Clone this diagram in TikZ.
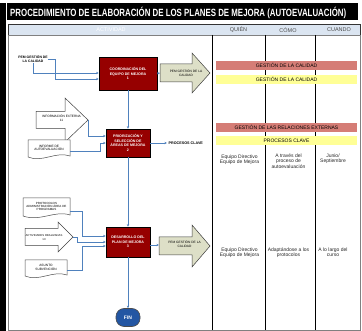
\documentclass[tikz,border=0pt]{standalone}
\usepackage{graphicx}
\usepackage{fontspec}
\setmainfont{Liberation Sans}
\usetikzlibrary{arrows.meta,calc}

\definecolor{cabecera}{RGB}{219,229,241}
\definecolor{granate}{RGB}{150,0,0}
\definecolor{salmon}{RGB}{213,125,118}
\definecolor{amarillo}{RGB}{255,255,150}
\definecolor{verdoso}{RGB}{221,223,199}
\definecolor{flujo}{RGB}{79,129,189}
\definecolor{azulfin}{RGB}{35,86,163}
\definecolor{marco}{RGB}{128,128,128}

\tikzset{
  proceso/.style={draw=black, line width=0.6pt, fill=granate, text=white,
    font=\bfseries\fontsize{3.6}{4.4}\selectfont, align=center, inner sep=0pt},
  conector/.style={draw=flujo, line width=0.6pt, -{Stealth[length=2.6pt,width=2.4pt]}},
  barra/.style={minimum width=141pt, minimum height=9pt, inner sep=0pt,
    font=\fontsize{5}{6}\selectfont},
  celda/.style={font=\fontsize{5}{5.3}\selectfont, align=center, text=black!85, inner sep=0pt},
  rotulo/.style={font=\fontsize{5.5}{6}\selectfont, text=black!70, inner sep=0pt},
  bloque/.style={draw=black!75, line width=0.5pt, line join=miter},
  documento/.style={draw=black!70, line width=0.5pt, fill=white},
  textopeq/.style={font=\fontsize{3.2}{3.8}\selectfont, align=center, inner sep=0pt},
}

% block arrow: x tail, x head base, x tip, y centre, half body, half head, fill
\newcommand{\bloqueflecha}[7]{%
  \draw[bloque, fill=#7] (#1,{#4-#5}) -- (#2,{#4-#5}) -- (#2,{#4-#6}) -- (#3,#4)
    -- (#2,{#4+#6}) -- (#2,{#4+#5}) -- (#1,{#4+#5}) -- cycle;}

\begin{document}
\begin{tikzpicture}[x=1pt, y=-1pt]
\path[use as bounding box] (0,0) rectangle (362,331);

% outer frame and title
\fill[black] (0,3) rectangle (6,331);
\fill[black] (7,3) rectangle (358,20);
\node[anchor=base west, text=white, inner sep=0pt] (titulo) at (10,16.7)
  {\scalebox{0.75}[1]{\fontsize{10.5}{12}\selectfont\bfseries PROCEDIMIENTO DE ELABORACIÓN DE LOS PLANES DE MEJORA (AUTOEVALUACIÓN)}};

% header row
\draw[fill=cabecera, draw=black!80, line width=0.6pt] (8,24) rectangle (360,35);
\node[rotulo, text=white] (hact) at (111,30) {ACTIVIDAD};
\node[rotulo] (hquien) at (238.5,30) {QUIÉN};
\node[rotulo] (hcomo) at (288,30) {CÓMO};
\node[rotulo] (hcuando) at (339,30) {CUANDO};

% table body
\draw[draw=marco, line width=0.8pt] (8,35) rectangle (360,330);
\draw[black, line width=0.6pt] (212,35) -- (212,330);
\draw[black, line width=0.6pt] (265.5,35) -- (265.5,330);
\draw[black, line width=0.6pt] (315.5,35) -- (315.5,330);

% coloured bars
\node[barra, fill=salmon] (gc1) at (286.5,65.5) {GESTIÓN DE LA CALIDAD};
\node[barra, fill=amarillo] (gc2) at (286.5,79.5) {GESTIÓN DE LA CALIDAD};
\node[barra, fill=salmon] (gre) at (286.5,127.5) {GESTIÓN DE LAS RELACIONES EXTERNAS};
\node[barra, fill=amarillo] (pcl) at (286.5,141) {PROCESOS CLAVE};

% who / how / when
\node[celda] (q1) at (239.5,159.5) {Equipo Directivo\\Equipo de Mejora};
\node[celda] (m1) at (288.5,161) {A través del\\proceso de\\autoevaluación};
\node[celda] (w1) at (333,158.5) {Junio/\\Septiembre};
\node[celda] (q2) at (239.5,252.5) {Equipo Directivo\\Equipo de Mejora};
\node[celda] (m2) at (288.5,252.5) {Adaptándose a los\\protocolos};
\node[celda] (w2) at (333,252.5) {A lo largo del\\curso};

% process boxes
\node[proceso, minimum width=58pt, minimum height=33pt] (p1) at (128,73.5)
  {COORDINACIÓN DEL\\EQUIPO DE MEJORA\\1};
\node[proceso, minimum width=44pt, minimum height=28pt] (p2) at (128,143)
  {PRIORIZACIÓN Y\\SELECCIÓN DE\\ÁREAS DE MEJORA\\2};
\node[proceso, minimum width=44pt, minimum height=30pt] (p3) at (128,242)
  {DESARROLLO DEL\\PLAN DE MEJORA\\3};
\node[fill=azulfin, draw=black!70, line width=0.6pt, rounded corners=8pt,
  minimum width=24pt, minimum height=18pt, inner sep=0pt, text=white,
  font=\bfseries\fontsize{5}{6}\selectfont] (fin) at (128,317.5) {FIN};

% inputs of step 1
\node[textopeq, font=\bfseries\fontsize{3.4}{4.2}\selectfont] (pem) at (33,59)
  {PEM GESTIÓN DE\\LA CALIDAD};

% output block arrows
\bloqueflecha{160}{192}{210}{73}{9}{20}{verdoso}
\node[textopeq] (pemA) at (186,73.5) {PEM GESTIÓN DE LA\\CALIDAD};
\coordinate (pemA-cola) at (160,73);
\bloqueflecha{159}{192}{210}{246}{9}{21}{verdoso}
\node[textopeq] (pemB) at (184.5,244.5) {PEM GESTIÓN DE LA\\CALIDAD};
\coordinate (pemB-cola) at (159,245);

% inputs of step 2
\bloqueflecha{36}{65}{88}{120}{8.5}{22}{white}
\node[textopeq] (ie) at (61.5,118.5) {INFORMACIÓN EXTERNA\\11};
\coordinate (ie-punta) at (88,120);
\draw[documento] (28,140) -- (70,140) -- (70,156)
  .. controls (56,151) and (42,163) .. (28,157) -- cycle;
\node[textopeq, minimum width=42pt] (inf) at (49,148) {INFORME DE\\AUTOEVALUACIÓN};
\node[font=\bfseries\fontsize{3.7}{4.4}\selectfont, anchor=west, inner sep=1.5pt]
  (pclave) at (167,143) {PROCESOS CLAVE};

% inputs of step 3
\draw[documento] (23,198) -- (70,198) -- (70,215)
  .. controls (55,210) and (40,222) .. (23,216) -- cycle;
\node[textopeq, font=\fontsize{3}{3.4}\selectfont, minimum width=47pt] (prot) at (46.5,206.5)
  {PROTOCOLOS\\ADMINISTRACIÓN ÁREA DE\\PROGRAMAS};
\bloqueflecha{25}{58}{73}{237}{8.5}{15}{white}
\node[textopeq, font=\fontsize{2.8}{3.4}\selectfont] (act) at (44,237.5)
  {ACTIVIDADES REALIZADAS\\13};
\coordinate (act-punta) at (73,237);
\draw[documento] (25,260) -- (67,260) -- (67,275)
  .. controls (53,270) and (39,282) .. (25,276) -- cycle;
\node[textopeq, minimum width=42pt] (asu) at (46,267.5) {ASUNTO\\SUBVENCIÓN};

% connectors
\draw[conector] (pem.south) |- ($(p1.west)+(0,-0.5)$);
\draw[conector] (pem.east) -- ++(7,0) |- ($(p1.west)+(0,5.5)$);
\draw[conector] (p1.east) -- (pemA-cola);
\draw[conector] (p1.south) -- (p2.north);
\draw[conector] (ie-punta) |- ($(p2.west)+(0,-7)$);
\draw[conector] ($(inf.east)+(0,3)$) -- ++(30,0) |- (p2.west);
\draw[conector] (p2.east) -- (pclave.west);
\draw[conector] (p2.south) -- (p3.north);
\draw[conector] ($(prot.east)+(0,4.5)$) -- ++(12,0) |- ($(p3.west)+(0,-6)$);
\draw[conector] (act-punta) -- ++(4,0) |- (p3.west);
\draw[conector] ($(asu.east)+(0,3)$) -- ++(15,0) |- ($(p3.west)+(0,4)$);
\draw[conector] ($(p3.east)+(0,3)$) -- (pemB-cola);
\draw[conector] (p3.south) -- (fin.north);
\end{tikzpicture}
\end{document}
